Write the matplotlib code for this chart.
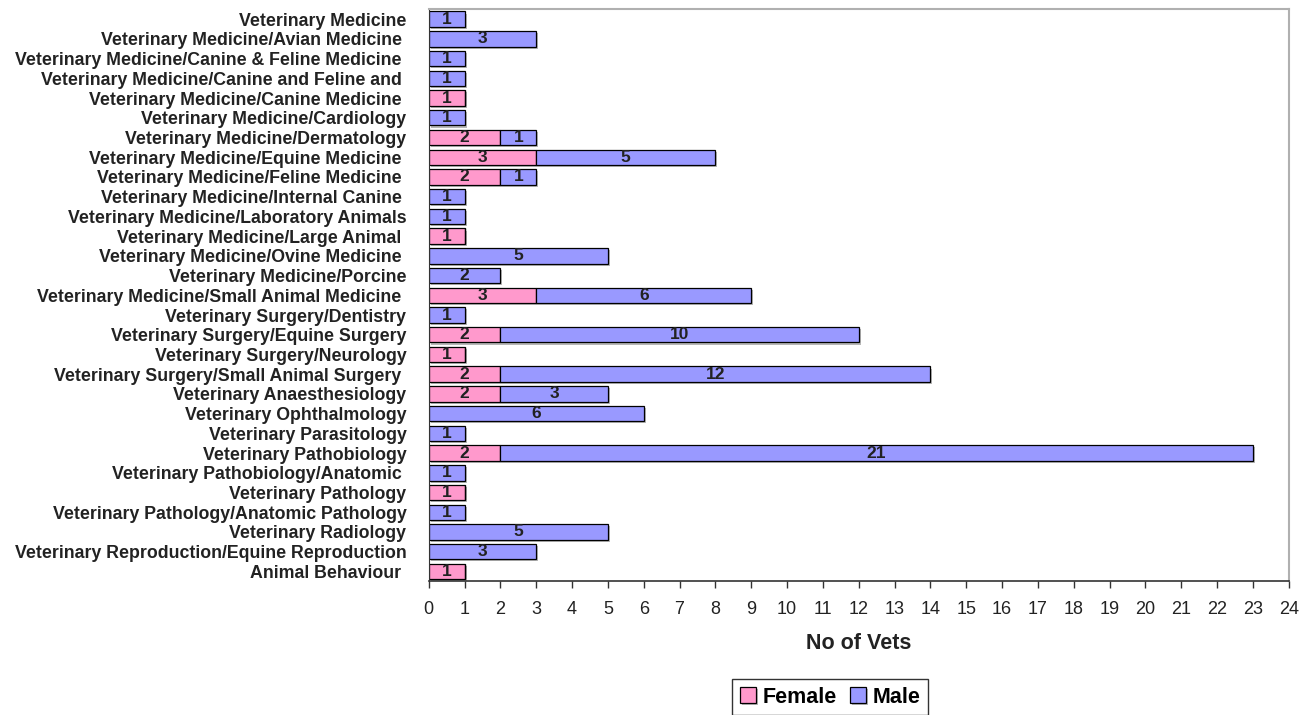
import matplotlib.pyplot as plt
import matplotlib.patheffects as pe
import numpy as np

plt.rcParams['font.family'] = ['Liberation Sans', 'DejaVu Sans']

# specialties, top to bottom
specialties = [
    "Veterinary Medicine",
    "Veterinary Medicine/Avian Medicine ",
    "Veterinary Medicine/Canine & Feline Medicine ",
    "Veterinary Medicine/Canine and Feline and ",
    "Veterinary Medicine/Canine Medicine ",
    "Veterinary Medicine/Cardiology",
    "Veterinary Medicine/Dermatology",
    "Veterinary Medicine/Equine Medicine ",
    "Veterinary Medicine/Feline Medicine ",
    "Veterinary Medicine/Internal Canine ",
    "Veterinary Medicine/Laboratory Animals",
    "Veterinary Medicine/Large Animal ",
    "Veterinary Medicine/Ovine Medicine ",
    "Veterinary Medicine/Porcine",
    "Veterinary Medicine/Small Animal Medicine ",
    "Veterinary Surgery/Dentistry",
    "Veterinary Surgery/Equine Surgery",
    "Veterinary Surgery/Neurology",
    "Veterinary Surgery/Small Animal Surgery ",
    "Veterinary Anaesthesiology",
    "Veterinary Ophthalmology",
    "Veterinary Parasitology",
    "Veterinary Pathobiology",
    "Veterinary Pathobiology/Anatomic ",
    "Veterinary Pathology",
    "Veterinary Pathology/Anatomic Pathology",
    "Veterinary Radiology",
    "Veterinary Reproduction/Equine Reproduction",
    "Animal Behaviour ",
]
female = [0, 0, 0, 0, 1, 0, 2, 3, 2, 0, 0, 1, 0, 0, 3, 0, 2, 1, 2, 2, 0, 0, 2, 0, 1, 0, 0, 0, 1]
male = [1, 3, 1, 1, 0, 1, 1, 5, 1, 1, 1, 0, 5, 2, 6, 1, 10, 0, 12, 3, 6, 1, 21, 1, 0, 1, 5, 3, 0]

female = np.array(female)
male = np.array(male)
y = np.arange(len(specialties))

fig = plt.figure(figsize=(13.07, 7.15), dpi=100)
ax = fig.add_axes([0.328, 0.187, 0.658, 0.8])

shadow = [pe.SimplePatchShadow(offset=(1.5, -1.5), shadow_rgbFace='#888888', alpha=0.6), pe.Normal()]
h = 0.78
fb = ax.barh(y, female, height=h, color='#FF99CC', edgecolor='black', linewidth=0.9, label='Female')
mb = ax.barh(y, male, height=h, left=female, color='#9999FF', edgecolor='black', linewidth=0.9, label='Male')
for bars in (fb, mb):
    for b in bars:
        b.set_path_effects(shadow)

# value labels in the middle of each segment
for i in y:
    if female[i] > 0:
        ax.text(female[i] / 2, i, str(female[i]), ha='center', va='center',
                fontsize=12.5, fontweight='bold', color='#222222')
    if male[i] > 0:
        ax.text(female[i] + male[i] / 2, i, str(male[i]), ha='center', va='center',
                fontsize=12.5, fontweight='bold', color='#222222')

ax.set_ylim(len(specialties) - 0.5, -0.5)
ax.set_xlim(0, 24)
ax.set_xticks(range(0, 25))
ax.tick_params(axis='x', direction='out', length=5, width=1, colors='#333333',
               labelsize=13, pad=9, labelcolor='#222222')
ax.set_yticks(y)
ax.set_yticklabels(specialties, fontsize=12.8, fontweight='bold', color='#222222')
ax.tick_params(axis='y', length=0, pad=16)

for s in ('top', 'right'):
    ax.spines[s].set_color('#b0b0b0')
    ax.spines[s].set_linewidth(1.5)
ax.spines['bottom'].set_color('#333333')
ax.spines['bottom'].set_linewidth(1.2)
ax.spines['left'].set_color('#333333')

ax.set_xlabel('No of Vets', fontsize=15.5, fontweight='bold', labelpad=11, color='#222222')

leg = fig.legend(handles=[fb, mb], loc='upper center', bbox_to_anchor=(0.635, 0.05),
                 ncol=2, frameon=True, fancybox=False, edgecolor='black', borderaxespad=0,
                 prop={'weight': 'bold', 'size': 15.5}, handlelength=0.75, handleheight=0.75,
                 handletextpad=0.3, columnspacing=0.6, borderpad=0.35)
leg.get_frame().set_linewidth(1.0)

fig.savefig('out.png', dpi=100)
